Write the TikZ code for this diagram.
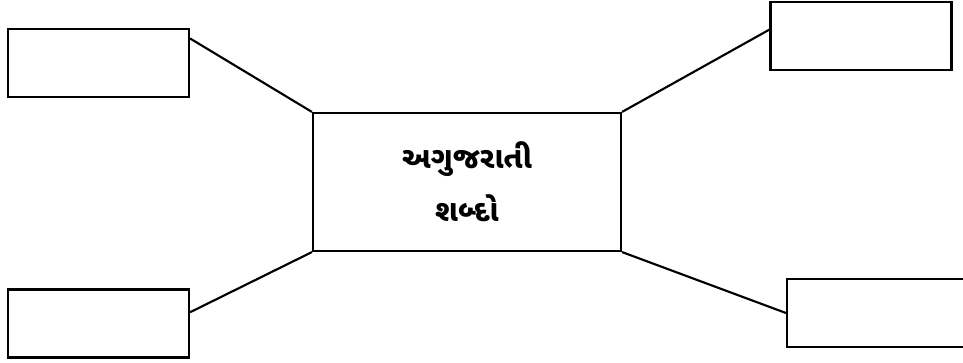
\documentclass[tikz,border=0pt]{standalone}
\usepackage{fontspec}
\newfontfamily\gujfont[Script=Gujarati]{Noto Sans Gujarati UI}
\usetikzlibrary{positioning}

\begin{document}
\begin{tikzpicture}[x=0.75pt, y=-0.75pt,
      blank/.style={draw, line width=1.6pt, minimum width=135.75pt, minimum height=51pt, inner sep=0pt},
      centre/.style={draw, line width=1.6pt, minimum width=231pt, minimum height=103.5pt, align=center,
         font=\gujfont\bfseries\fontsize{22.5}{40}\selectfont},
      link/.style={line width=1.6pt}]
            \useasboundingbox (0,0) rectangle (963,363);
            \clip (0,0) rectangle (963,363);
            % Central box
            \node[centre] (word) at (467,182) {અગુજરાતી\\શબ્દો};
            % Empty boxes
            \node[blank] (tl) at (98.5,63) {};
            \node[blank] (tr) at (861,36) {};
            \node[blank] (bl) at (98.5,323.5) {};
            \node[blank] (br) at (877.5,313) {};
            % Connectors
            \draw[link] (tl.15) -- (word.north west);
            \draw[link] (tr.176) -- (word.north east);
            \draw[link] (bl.7) -- (word.south west);
            \draw[link] (br.west) -- (word.south east);
         \end{tikzpicture}
\end{document}
